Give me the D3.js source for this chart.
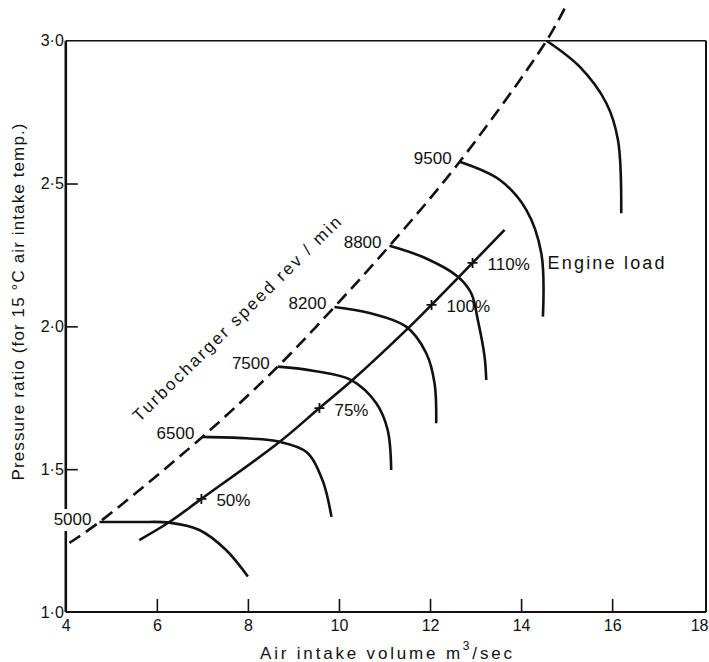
<!DOCTYPE html>
<html><head><meta charset="utf-8">
<script src="https://cdn.jsdelivr.net/npm/d3@7"></script>
<style>
body{margin:0;background:#fff}
svg{display:block}
text{font-family:"Liberation Sans",Arial,sans-serif;fill:#111}
</style>
</head><body>
<svg id="c" width="709" height="662"></svg>
<script>
// ---- data ----
const xTicks = [4, 6, 8, 10, 12, 14, 16, 18];
const yTicks = [1.0, 1.5, 2.0, 2.5, 3.0];
const yTickLabels = ["1·0", "1·5", "2·0", "2·5", "3·0"];

// surge line (dashed, turbocharger speed)
const surgeLine = [[4.08,1.242],[4.74,1.315],[7.0,1.613],[8.655,1.859],[9.90,2.068],[11.11,2.282],[12.65,2.576],[14.56,3.0],[14.96,3.114]];

// constant turbocharger speed curves
const speedLabels = ["5000", "6500", "7500", "8200", "8800", "9500", ""];
const speed5000 = [[4.74,1.315],[5.6,1.315],[6.275,1.313],[6.934,1.287],[7.52,1.217],[8.0,1.124]];
const speed6500 = [[7.0,1.613],[7.96,1.608],[8.692,1.596],[9.286,1.560],[9.637,1.462],[9.835,1.333]];
const speed7500 = [[8.655,1.859],[9.46,1.844],[10.27,1.812],[10.82,1.731],[11.07,1.637],[11.147,1.497]];
const speed8200 = [[9.90,2.068],[10.67,2.047],[11.477,1.999],[11.917,1.906],[12.099,1.801],[12.136,1.661]];
const speed8800 = [[11.11,2.282],[11.88,2.24],[12.611,2.174],[12.905,2.116],[13.05,2.022],[13.198,1.894],[13.235,1.812]];
const speed9500 = [[12.65,2.576],[13.527,2.513],[14.114,2.408],[14.444,2.256],[14.48,2.034]];
const speedTop  = [[14.56,3.0],[15.286,2.909],[15.873,2.781],[16.127,2.653],[16.20,2.396]];
const speedCurves = [speed5000, speed6500, speed7500, speed8200, speed8800, speed9500, speedTop];

// engine load line
const engineLoad = [[5.615,1.252],[6.275,1.315],[6.978,1.396],[8.692,1.595],[9.571,1.714],[10.297,1.812],[11.549,1.998],[12.033,2.075],[12.934,2.222],[13.637,2.338]];
const loadX = [6.978, 9.571, 12.033, 12.934];
const loadY = [1.396, 1.714, 2.075, 2.222];
const loadLabels = ["50%", "75%", "100%", "110%"];

// ---- drawing ----
const svg = d3.select("#c");
const x = d3.scaleLinear([4, 18], [65.8, 703.2]);
const y = d3.scaleLinear([1, 3], [612, 40.7]);
const xRight = 706;

const line = d3.line().x(d => x(d[0])).y(d => y(d[1])).curve(d3.curveCatmullRom.alpha(0.5));

// frame
const frame = svg.append("g").attr("stroke", "#111").attr("fill", "none");
frame.append("line").attr("x1", x(4)).attr("x2", x(4)).attr("y1", y(1)).attr("y2", y(3)).attr("stroke-width", 2.6);
frame.append("line").attr("x1", x(4)).attr("x2", xRight).attr("y1", y(3)).attr("y2", y(3)).attr("stroke-width", 1.6);
frame.append("line").attr("x1", xRight).attr("x2", xRight).attr("y1", y(3)).attr("y2", y(1)).attr("stroke-width", 2);
frame.append("line").attr("x1", x(4)).attr("x2", xRight).attr("y1", y(1)).attr("y2", y(1)).attr("stroke-width", 2);

// x axis
const gx = svg.append("g").attr("transform", `translate(0,${y(1)})`)
  .call(d3.axisBottom(x).tickValues(xTicks).tickSizeInner(-13).tickSizeOuter(0).tickPadding(8).tickFormat(d => d));
gx.select(".domain").remove();
gx.selectAll(".tick line").attr("stroke", "#111").attr("stroke-width", 1.6)
  .attr("display", d => (d === 4 || d === 18) ? "none" : null);
gx.selectAll(".tick text").attr("font-size", 16).attr("font-family", "Liberation Sans, Arial, sans-serif").attr("fill", "#111");
// keep the last label inside the picture
gx.selectAll(".tick text").filter(d => d === 18).attr("text-anchor", "end").attr("x", 709 - x(18) - 1);

// y axis
const gy = svg.append("g").attr("transform", `translate(${x(4)},0)`)
  .call(d3.axisLeft(y).tickValues(yTicks).tickSizeInner(-12).tickSizeOuter(0).tickPadding(2)
    .tickFormat((d, i) => yTickLabels[i]));
gy.select(".domain").remove();
gy.selectAll(".tick line").attr("stroke", "#111").attr("stroke-width", 1.6)
  .attr("display", d => (d === 1 || d === 3) ? "none" : null);
gy.selectAll(".tick text").attr("font-size", 16).attr("font-family", "Liberation Sans, Arial, sans-serif").attr("fill", "#111");

// white gap behind the 5000 label (breaks the left axis)
const s0 = speedCurves[0][0];
svg.append("rect").attr("x", x(s0[0]) - 52).attr("y", y(s0[1]) - 13).attr("width", 44).attr("height", 22).attr("fill", "#fff");

// surge (dashed) line
svg.append("path").attr("d", line(surgeLine)).attr("fill", "none").attr("stroke", "#111")
  .attr("stroke-width", 2.6).attr("stroke-dasharray", "13,7");

// speed curves
svg.append("g").selectAll("path").data(speedCurves).join("path")
  .attr("d", d => line(d)).attr("fill", "none").attr("stroke", "#111").attr("stroke-width", 2.6);

// speed labels
svg.append("g").selectAll("text").data(speedCurves).join("text")
  .attr("x", d => x(d[0][0]) - 8).attr("y", d => y(d[0][1]) - 3)
  .attr("text-anchor", "end").attr("dominant-baseline", "central").attr("font-size", 17)
  .text((d, i) => speedLabels[i]);

// engine load line
svg.append("path").attr("d", line(engineLoad)).attr("fill", "none").attr("stroke", "#111").attr("stroke-width", 2.6);

const marks = svg.append("g");
loadX.forEach((lx, i) => {
  const px = x(lx), py = y(loadY[i]);
  marks.append("path").attr("d", `M${px-5},${py}H${px+5}M${px},${py-5}V${py+5}`)
    .attr("stroke", "#111").attr("stroke-width", 1.8);
  marks.append("text").attr("x", px + 15).attr("y", py + 2).attr("dominant-baseline", "central")
    .attr("font-size", 17).text(loadLabels[i]);
});

// Engine load annotation
svg.append("text").attr("x", x(loadX[3]) + 75).attr("y", y(loadY[3]))
  .attr("dominant-baseline", "central").attr("font-size", 18)
  .attr("textLength", 117).attr("lengthAdjust", "spacing").text("Engine load");

// turbocharger speed annotation (rotated)
svg.append("text").attr("transform", "translate(237,319) rotate(-44.5)")
  .attr("text-anchor", "middle").attr("dominant-baseline", "central").attr("font-size", 17)
  .attr("textLength", 284).attr("lengthAdjust", "spacing").text("Turbocharger speed rev / min");

// axis titles
svg.append("text").attr("transform", "translate(18.5,302) rotate(-90)")
  .attr("text-anchor", "middle").attr("dominant-baseline", "central").attr("font-size", 17)
  .attr("textLength", 357).attr("lengthAdjust", "spacing").text("Pressure ratio  (for 15 °C air intake temp.)");

const xt = svg.append("text").attr("x", 386).attr("y", 653).attr("text-anchor", "middle")
  .attr("dominant-baseline", "central").attr("font-size", 17);
xt.append("tspan").text("Air intake volume  m");
xt.append("tspan").attr("font-size", 12).attr("dy", -7).text("3");
xt.append("tspan").attr("dy", 7).text("/sec");
xt.attr("textLength", 252).attr("lengthAdjust", "spacing");
</script>
</body></html>
